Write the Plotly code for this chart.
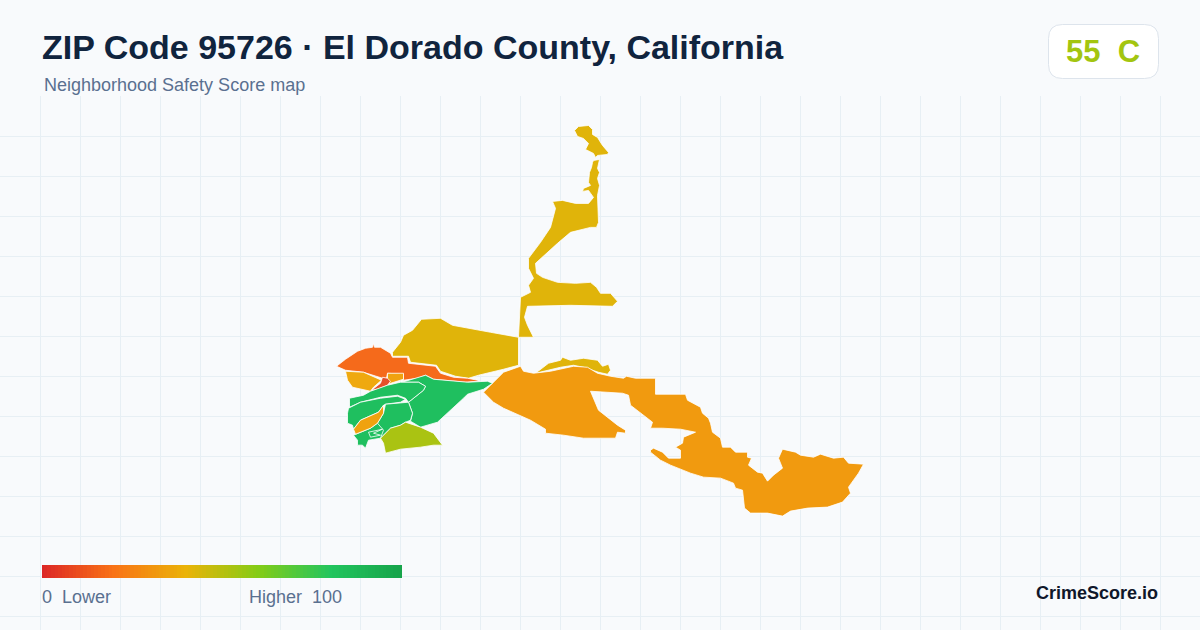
import plotly.graph_objects as go

TITLE = "ZIP Code 95726 · El Dorado County, California"
SUBTITLE = "Neighborhood Safety Score map"
BADGE = "55  C"
BRAND = "CrimeScore.io"
LEG_LOW = "0  Lower"
LEG_HIGH = "Higher  100"
LEG_SCORES = list(range(0, 101))
SCALE = [[0, "#dc2626"], [0.2, "#f97316"], [0.4, "#eab308"], [0.6, "#84cc16"], [0.8, "#22c55e"], [1, "#16a34a"]]

NORTH_BLOB = [(574,130),(578,126),(588,125),(592,129),(592,134),(597,137),(602,145),(608,152),(607,154),(597,155),(595,157),(593,153),(585,149),(588,143),(583,138),(577,136)]
NORTH_STRIP = [(593,160),(599,159),(597,168),(599,172),(597,178),(599,185),(597,195),(598,222),(596,227),(590,227),(570,232),(557,243),(535,263),(536,273),(542,277),(557,282),(575,283),(590,282),(596,287),(600,293),(610,293),(617,301),(612,306),(570,305),(527,306),(524,317),(527,325),(533,337),(518,337),(520,297),(530,292),(528,285),(533,278),(528,268),(528,258),(540,242),(550,227),(555,208),(552,201),(562,200),(575,203),(588,203),(593,197),(588,190),(582,191),(583,188),(590,185),(588,182),(589,172),(591,167),(592,162)]
YELLOW_MAIN = [(392,352),(400,342),(403,335),(412,330),(421,319),(440,318),(452,325),(470,328),(490,332),(518,337),(518,365),(503,369),(490,372),(478,375),(468,378),(455,376),(440,371),(436,365),(410,362),(408,356),(392,356)]
YELLOW_EAST = [(535,373),(548,363),(560,360),(562,357),(570,360),(583,358),(597,360),(602,366),(608,364),(610,370),(607,374),(598,372),(583,367),(573,365),(560,367),(547,370)]
ORANGE_MAIN = [(483,392),(492,383),(503,372),(520,366),(523,371),(533,373),(550,371),(573,366),(587,367),(597,373),(610,376),(623,378),(626,376),(635,378),(655,378),(655,394),(685,394),(687,400),(700,407),(702,413),(708,418),(710,423),(712,432),(720,438),(722,447),(730,447),(735,452),(747,452),(747,457),(751,458),(748,465),(757,472),(762,473),(767,481),(773,475),(782,468),(778,458),(782,449),(795,452),(800,455),(813,457),(820,454),(833,458),(843,457),(848,463),(863,464),(858,473),(848,487),(850,493),(842,502),(827,507),(807,508),(790,511),(782,516),(767,513),(750,513),(744,508),(742,490),(735,488),(733,483),(720,478),(703,477),(690,473),(670,465),(660,460),(650,452),(650,450),(653,448),(662,452),(668,458),(680,458),(680,450),(675,447),(682,443),(683,437),(695,432),(680,429),(662,428),(650,428),(652,422),(640,413),(630,405),(628,395),(622,393),(590,391),(598,410),(617,425),(625,430),(625,433),(617,432),(615,438),(583,438),(563,435),(545,433),(545,429),(530,420),(503,408),(493,402)]
ORANGE_RED = [(336,366),(345,359),(357,351),(365,348),(372,347),(373,343),(374,347),(380,347),(390,353),(392,357),(407,357),(408,363),(435,366),(440,373),(453,377),(467,378),(477,380),(478,381),(465,382),(447,380),(433,379),(425,375),(417,378),(403,380),(403,374),(387,373),(386,378),(382,378),(363,372),(345,370)]
AMBER_WEST = [(345,371),(363,372),(381,380),(373,387),(370,391),(360,389),(352,387),(347,380)]
AMBER_SMALL = [(387,373),(403,373),(403,379),(390,383),(387,384)]
RED_SMALL = [(371,390),(380,383),(382,377),(387,378),(390,381),(387,385),(377,389)]
GREEN_EAST = [(405,381),(425,375),(433,379),(467,382),(487,381),(492,383),(483,389),(467,394),(463,398),(437,422),(420,427),(410,421),(412,413),(408,402),(423,390),(425,386),(418,382),(400,382)]
GREEN_NORTH = [(349,398),(363,395),(370,391),(387,385),(400,382),(418,382),(425,386),(423,390),(408,402),(405,398),(397,395),(380,397),(360,402),(349,407)]
GREEN_WEST = [(348,408),(360,402),(380,398),(397,396),(405,399),(400,402),(385,404),(383,405),(378,412),(360,420),(353,429),(352,425),(347,423),(347,413)]
GREEN_MID = [(385,404),(408,402),(412,413),(410,420),(405,422),(400,425),(390,428),(380,438),(377,423),(383,413)]
GREEN_SOUTH = [(353,435),(370,428),(377,423),(383,430),(380,438),(368,440),(365,448),(362,445),(357,445),(357,440)]
GREEN_LOOP = [(368,432),(382,429),(373,433),(380,435),(370,437)]
AMBER_SOUTH = [(353,429),(360,420),(378,412),(383,405),(383,413),(377,423),(370,428),(355,434)]
LIME_SOUTH = [(380,438),(390,428),(400,425),(405,422),(420,427),(433,433),(442,445),(433,445),(420,447),(400,449),(385,453),(383,443)]

REGIONS = [
    (NORTH_BLOB, "#e0b40a"), (NORTH_STRIP, "#e0b40a"), (YELLOW_MAIN, "#e0b40a"), (YELLOW_EAST, "#e0b40a"),
    (ORANGE_MAIN, "#f19a0f"), (ORANGE_RED, "#f56a1b"), (AMBER_WEST, "#efa90f"), (AMBER_SMALL, "#f0a20f"),
    (RED_SMALL, "#e2502a"), (GREEN_EAST, "#1fbf5f"), (GREEN_NORTH, "#1fbf5f"), (GREEN_WEST, "#1fbf5f"),
    (GREEN_MID, "#1fbf5f"), (GREEN_SOUTH, "#1fbf5f"), (GREEN_LOOP, "#1fbf5f"), (AMBER_SOUTH, "#f0a20f"), (LIME_SOUTH, "#aac312"),
]

W, H = 1200, 630
TOP = 96
BG = "#f8fafc"
GRID = "#e7eff4"
FONT = "Liberation Sans, Arial, sans-serif"

fig = go.Figure()
for pts, col in REGIONS:
    xs = [p[0] for p in pts] + [pts[0][0]]
    ys = [p[1] for p in pts] + [pts[0][1]]
    fig.add_trace(go.Scatter(x=xs, y=ys, mode="lines", fill="toself", fillcolor=col,
                             line=dict(color="#ffffff", width=0.8), hoverinfo="skip", showlegend=False))

fig.add_trace(go.Heatmap(x=LEG_SCORES, y=[0, 1], z=[LEG_SCORES, LEG_SCORES], colorscale=SCALE, zmin=0, zmax=100,
                         showscale=False, hoverinfo="skip", xaxis="x2", yaxis="y2"))

def px(x): return x / W
def py(y): return 1 - y / H

def note(text, x, y, size, color, bold=False, anchor="left"):
    fig.add_annotation(text=f"<b>{text}</b>" if bold else text, xref="paper", yref="paper", x=px(x), y=py(y),
                       xanchor=anchor, yanchor="middle", showarrow=False,
                       font=dict(family=FONT, size=size, color=color))

note(TITLE, 40, 47, 34, "#10243e", True)
note(SUBTITLE, 42, 85, 18, "#5a7090")
note(BADGE, 1103, 51, 31, "#a3c510", True, "center")
note(LEG_LOW, 40, 597, 18, "#5a7090")
note(LEG_HIGH, 247, 597, 18, "#5a7090")
note(BRAND, 1160, 593, 18, "#0f172a", True, "right")

x0, x1, y0, y1, r = px(1048.5), px(1158.5), py(24.5), py(78.5), 14
rx, ry = r / W, r / H
path = (f"M {x0+rx} {y0} L {x1-rx} {y0} Q {x1} {y0} {x1} {y0-ry} L {x1} {y1+ry} Q {x1} {y1} {x1-rx} {y1} "
        f"L {x0+rx} {y1} Q {x0} {y1} {x0} {y1+ry} L {x0} {y0-ry} Q {x0} {y0} {x0+rx} {y0} Z")
fig.add_shape(type="path", path=path, xref="paper", yref="paper", fillcolor="#ffffff",
              line=dict(color="#dde4ec", width=1))

axis = dict(showticklabels=False, ticks="", zeroline=False, showline=False, showgrid=True,
            gridcolor=GRID, gridwidth=1)
fig.update_layout(
    width=W, height=H, margin=dict(l=0, r=0, t=0, b=0), paper_bgcolor=BG, plot_bgcolor=BG,
    showlegend=False,
    xaxis=dict(axis, range=[-0.5, W - 0.5], tick0=0, dtick=40, domain=[0, 1]),
    yaxis=dict(axis, range=[H, TOP - 0.5], tick0=16, dtick=40, domain=[0, 1 - TOP / H]),
    xaxis2=dict(domain=[42 / W, 402 / W], range=[0, 100], visible=False, anchor="y2"),
    yaxis2=dict(domain=[py(578), py(565)], range=[0, 1], visible=False, anchor="x2"),
)
fig.write_html("out.html", config={"displayModeBar": False}, post_script="document.body.style.margin='0';")
